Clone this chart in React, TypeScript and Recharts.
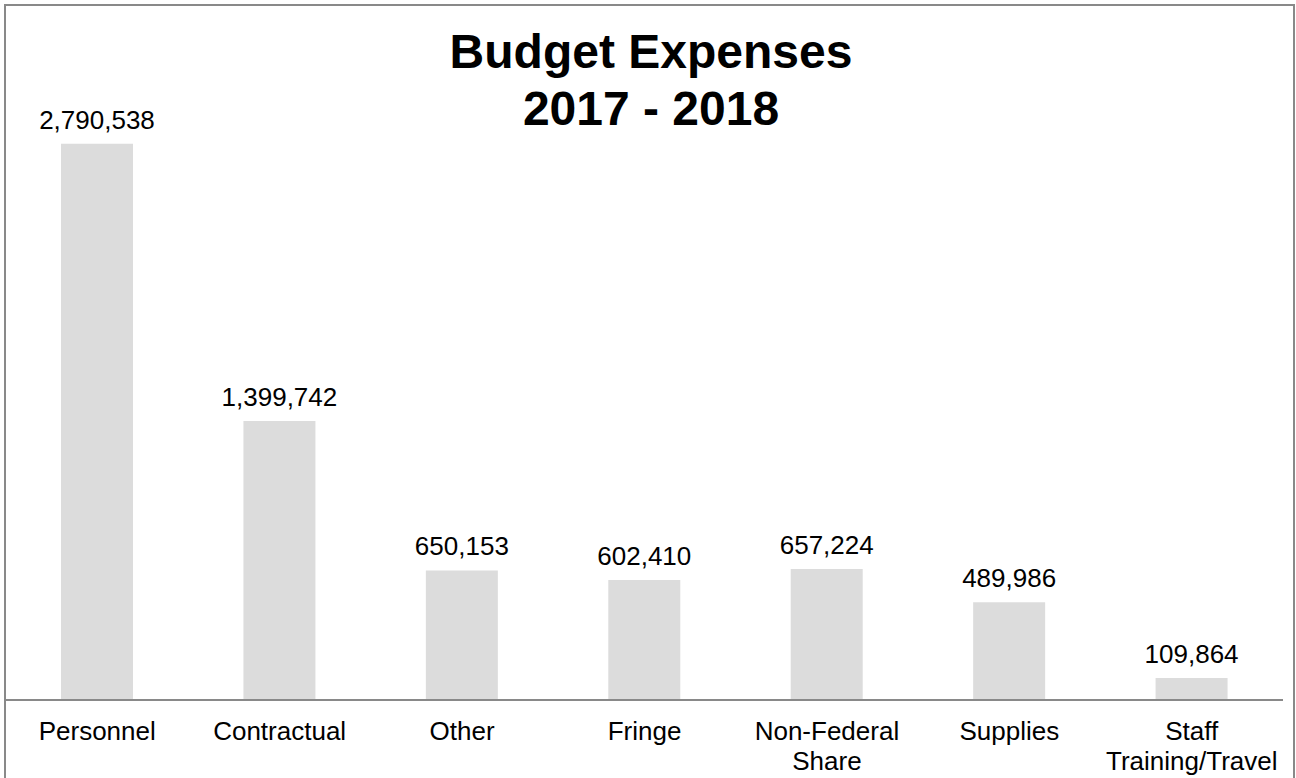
import React from "react";
import { BarChart, Bar, XAxis, YAxis, LabelList } from "recharts";

const categories = [
  "Personnel",
  "Contractual",
  "Other",
  "Fringe",
  "Non-Federal\nShare",
  "Supplies",
  "Staff\nTraining/Travel",
];
const expenses = [2790538, 1399742, 650153, 602410, 657224, 489986, 109864];
const titleLines = ["Budget Expenses", "2017 - 2018"];

const data = categories.map((name, i) => ({ name, value: expenses[i] }));

const FONT = "'Liberation Sans', Arial, sans-serif";

const CategoryTick = (props: any) => {
  const { x, y, payload } = props;
  const lines = String(payload.value).split("\n");
  return (
    <text x={x} y={y} textAnchor="middle" fill="#000" fontSize={26} fontFamily={FONT}>
      {lines.map((line, i) => (
        <tspan key={i} x={x} dy={i === 0 ? 40 : 30}>
          {line}
        </tspan>
      ))}
    </text>
  );
};

export default function App() {
  return (
    <div style={{ position: "absolute", left: 0, top: 0, width: 1296, height: 778, background: "#fff" }}>
      <BarChart
        width={1296}
        height={778}
        data={data}
        margin={{ top: 102, right: 13, bottom: 8, left: 6 }}
      >
        <YAxis hide domain={[0, 3000000]} />
        <XAxis
          dataKey="name"
          height={70}
          interval={0}
          tickLine={false}
          tickSize={0}
          tickMargin={0}
          axisLine={{ stroke: "#898989", strokeWidth: 2 }}
          tick={<CategoryTick />}
        />
        <Bar dataKey="value" fill="#dcdcdc" barSize={72} isAnimationActive={false}>
          <LabelList
            dataKey="value"
            position="top"
            offset={15}
            formatter={(v: any) => Number(v).toLocaleString("en-US")}
            style={{ fontSize: 26, fontFamily: FONT, fill: "#000" }}
          />
        </Bar>
      </BarChart>
      <svg
        width={1296}
        height={778}
        style={{ position: "absolute", left: 0, top: 0, pointerEvents: "none" }}
      >
        <rect x={5} y={5} width={1289} height={800} fill="none" stroke="#898989" strokeWidth={2} />
        <text x={651} textAnchor="middle" fontFamily={FONT} fontWeight="bold" fontSize={48} fill="#000">
          {titleLines.map((line, i) => (
            <tspan key={i} x={651} y={68 + i * 57}>
              {line}
            </tspan>
          ))}
        </text>
      </svg>
    </div>
  );
}
